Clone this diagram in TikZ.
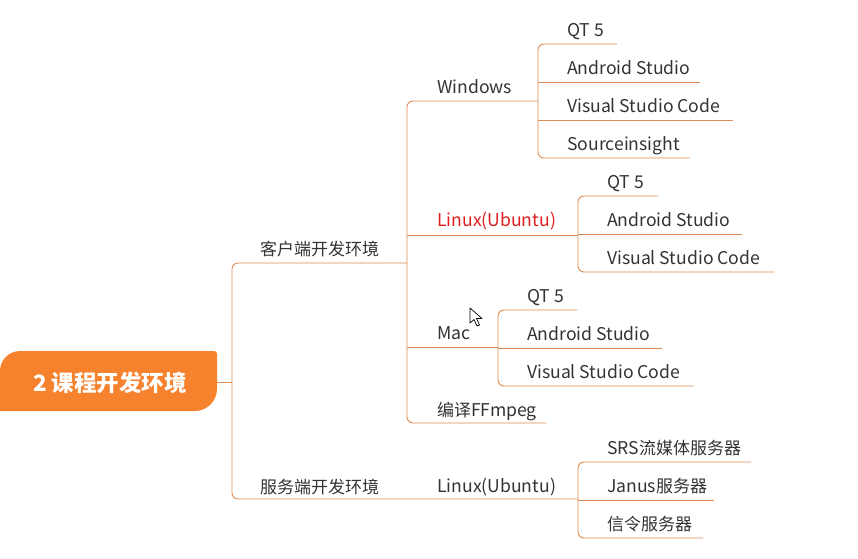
\documentclass[tikz,border=0pt]{standalone}
\usepackage{fontspec}
\setmainfont{Noto Sans CJK SC}
\newfontfamily\zhfont[Scale=0.965]{Noto Sans CJK SC}
\newcommand{\zh}[1]{{\zhfont #1}}
\begin{document}
\begin{tikzpicture}[x=1pt,y=-1pt,
  lbl/.style={anchor=base west, inner sep=0pt, text=txtgray, font=\fontsize{17.6}{20}\selectfont},
  br/.style={draw=lineor, line width=0.9pt, rounded corners=6pt}]
\definecolor{lineor}{RGB}{222,140,82}
\definecolor{rootor}{RGB}{246,130,46}
\definecolor{txtgray}{RGB}{51,51,51}
\definecolor{redtxt}{RGB}{222,30,30}
\useasboundingbox (0,0) rectangle (858,558);
% root shape
\fill[rootor] (-2,411) -- (-2,371) -- (0,371) .. controls (0,360) and (9,351) .. (20,351) -- (214,351)
  .. controls (216,351) and (217,352) .. (217,354) -- (217,389)
  .. controls (217,401) and (207,411) .. (195,411) -- cycle;
\node[inner sep=0pt, text=white, font=\fontsize{22.5}{24}\selectfont\bfseries] (root) at (110,383) {2 课程开发环境};
% connectors
\draw[br] (217,382) -- (232,382);
\draw[br] (407,263) -- (232,263) -- (232,499) -- (578,499);
\draw[br] (538,101) -- (407,101) -- (407,423) -- (546,423);
\draw[br] (407,235) -- (578,235);
\draw[br] (407,347) -- (498,347);
\draw[br] (617,44) -- (538,44) -- (538,158) -- (690,158);
\draw[br] (538,82) -- (700,82);
\draw[br] (538,120) -- (733,120);
\draw[br] (658,196) -- (578,196) -- (578,272) -- (774,272);
\draw[br] (578,234) -- (742,234);
\draw[br] (577,310) -- (498,310) -- (498,386) -- (694,386);
\draw[br] (498,348) -- (662,348);
\draw[br] (751,462) -- (578,462) -- (578,538) -- (703,538);
\draw[br] (578,500) -- (714,500);
% labels
\node[lbl] (client) at (260,255) {\zh{客户端开发环境}};
\node[lbl] (server) at (260,493) {\zh{服务端开发环境}};
\node[lbl] (win) at (437,93) {Windows};
\node[lbl, text=redtxt] (linux) at (437,226) {Linux(Ubuntu)};
\node[lbl] (mac) at (437,339) {Mac};
\node[lbl] (ff) at (437,416) {\zh{编译}FFmpeg};
\node[lbl] (slinux) at (437,492) {Linux(Ubuntu)};
\node[lbl] (w1) at (567,36) {QT 5};
\node[lbl] (w2) at (567,74) {Android Studio};
\node[lbl] (w3) at (567,112) {Visual Studio Code};
\node[lbl] (w4) at (567,150) {Sourceinsight};
\node[lbl] (l1) at (607,188) {QT 5};
\node[lbl] (l2) at (607,226) {Android Studio};
\node[lbl] (l3) at (607,264) {Visual Studio Code};
\node[lbl] (m1) at (527,302) {QT 5};
\node[lbl] (m2) at (527,340) {Android Studio};
\node[lbl] (m3) at (527,378) {Visual Studio Code};
\node[lbl] (s1) at (607,454) {SRS\zh{流媒体服务器}};
\node[lbl] (s2) at (607,492) {Janus\zh{服务器}};
\node[lbl] (s3) at (607,530) {\zh{信令服务器}};
% mouse cursor
\draw[fill=white, line width=0.7pt, line join=round] (470,308) -- (470,323) -- (474,319.5) -- (477,326) -- (479.5,325) -- (476.5,318.5) -- (482,318.5) -- cycle;
\end{tikzpicture}
\end{document}
